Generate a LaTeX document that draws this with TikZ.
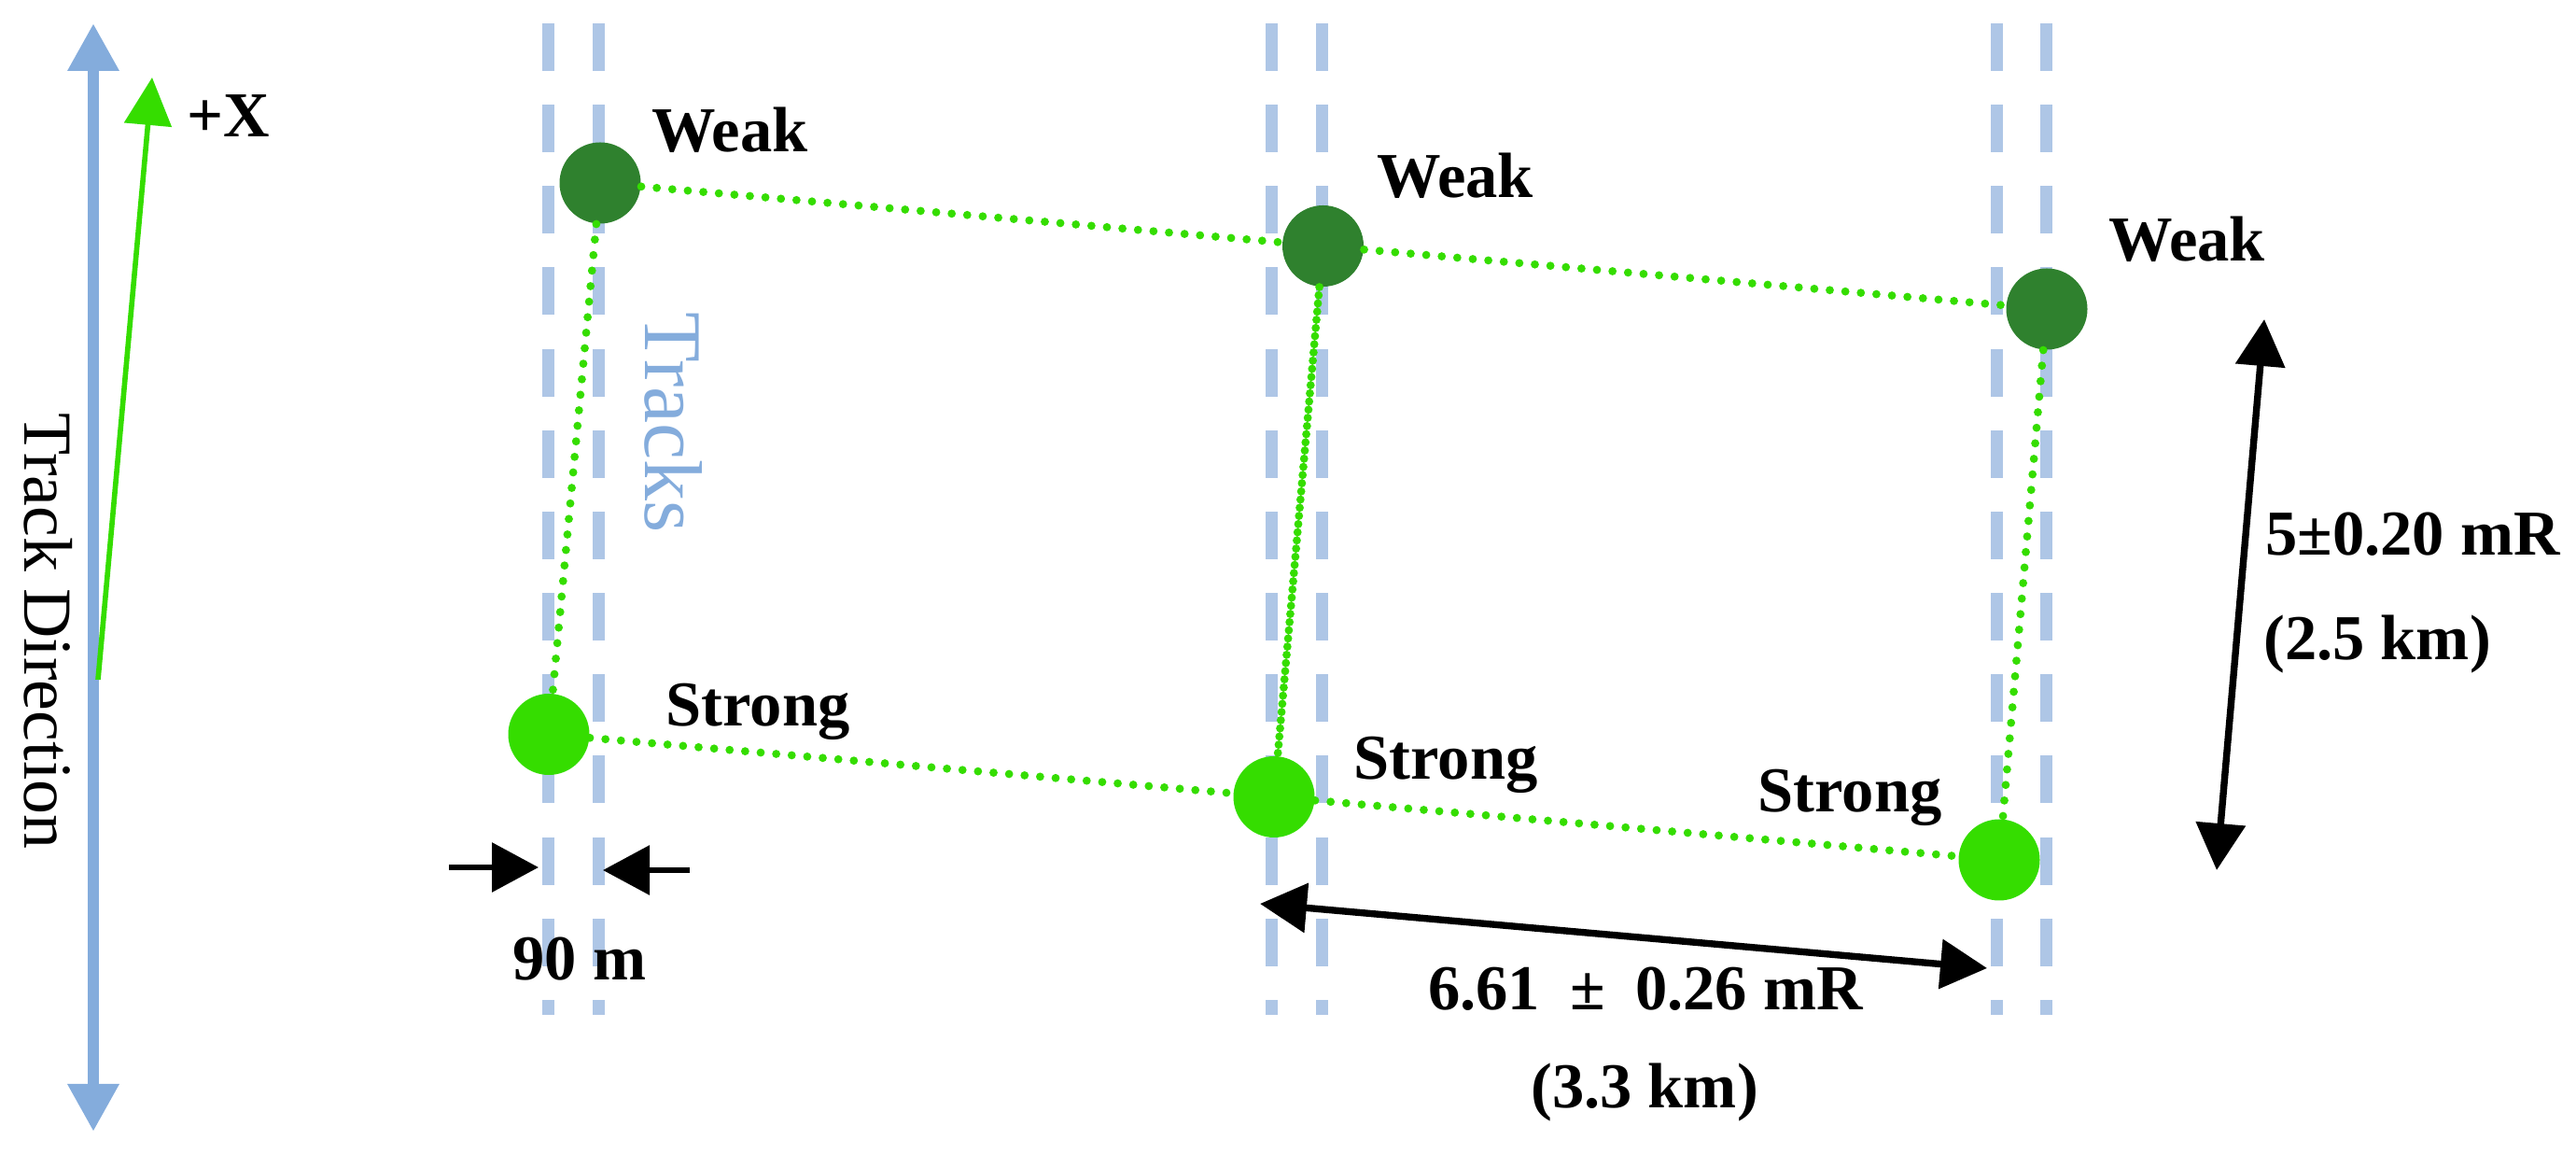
\documentclass[tikz,border=0pt]{standalone}
\usepackage{fontspec}
\setmainfont{Liberation Serif}
\usepackage{tikz}
\usetikzlibrary{arrows.meta}

\definecolor{weakgreen}{RGB}{47,129,46}
\definecolor{stronggreen}{RGB}{53,221,0}
\definecolor{trackblue}{RGB}{174,198,230}
\definecolor{dirblue}{RGB}{132,172,220}

\tikzset{
  weakpt/.style={circle, fill=weakgreen, minimum size=8.7mm, inner sep=0pt},
  strongpt/.style={circle, fill=stronggreen, minimum size=8.7mm, inner sep=0pt},
  link/.style={draw=stronggreen, line width=2.5pt, line cap=round, dash pattern=on 0pt off 4.75pt},
  denselink/.style={link, dash pattern=on 0pt off 2.5pt},
  trackline/.style={draw=trackblue, line width=3.7pt, dash pattern=on 14.5pt off 10.3pt},
  lbl/.style={anchor=base, inner sep=0pt, font=\fontsize{19.5}{23}\selectfont\bfseries},
  dimarrow/.style={draw=black, line width=2.1pt, arrows={Triangle[length=5mm,width=5.2mm]-Triangle[length=5mm,width=5.2mm]}},
  pointer/.style={draw=black, line width=1.8pt, arrows={-Triangle[length=5mm,width=5.2mm]}}
}

\begin{document}
\begin{tikzpicture}
\useasboundingbox (0,0) rectangle (27.6,12.36);
\foreach \x in {5.87,6.41,13.62,14.16,21.39,21.92}
  \draw [trackline] (\x,12.11) -- (\x,1.49);
\coordinate (dirtop) at (1.00,12.11);
\coordinate (dirbot) at (1.00,0.24);
\draw [draw=dirblue, line width=3.6pt, arrows={Triangle[length=5.1mm,width=5.2mm,fill=dirblue]-Triangle[length=5.1mm,width=5.2mm,fill=dirblue]}] (dirbot) -- (dirtop);
\node [rotate=-90, inner sep=0pt, font=\fontsize{21}{25}\selectfont] (dirlbl) at (0.52,5.60) {Track Direction};
\coordinate (xfoot) at (1.05,5.08);
\coordinate (xtip) at (1.63,11.53);
\draw [draw=stronggreen, line width=1.6pt, arrows={-Triangle[length=5.1mm,width=5mm,fill=stronggreen]}] (xfoot) -- (xtip);
\node [lbl] (xlbl) at (2.45,10.89) {+X};
\node [rotate=-90, inner sep=0pt, text=dirblue, font=\fontsize{25}{30}\selectfont] (trklbl) at (7.22,7.83) {Tracks};
\node [weakpt] (w1) at (6.43,10.40) {};
\node [weakpt] (w2) at (14.175,9.725) {};
\node [weakpt] (w3) at (21.93,9.05) {};
\node [strongpt] (s1) at (5.88,4.495) {};
\node [strongpt] (s2) at (13.65,3.825) {};
\node [strongpt] (s3) at (21.42,3.15) {};
\draw [link] (w1) -- (w2);
\draw [link] (w2) -- (w3);
\draw [link] (s1) -- (s2);
\draw [link] (s2) -- (s3);
\draw [link] (w1) -- (s1);
\draw [denselink] (w2) -- (s2);
\draw [link] (w3) -- (s3);
\node [lbl] (w1lbl) at (7.82,10.73) {Weak};
\node [lbl] (w2lbl) at (15.59,10.24) {Weak};
\node [lbl] (w3lbl) at (23.43,9.56) {Weak};
\node [lbl] (s1lbl) at (8.12,4.58) {Strong};
\node [lbl] (s2lbl) at (15.49,4.01) {Strong};
\node [lbl] (s3lbl) at (19.82,3.66) {Strong};
\coordinate (gapl) at (4.81,3.07);
\coordinate (gapltip) at (5.77,3.07);
\coordinate (gapr) at (7.39,3.04);
\coordinate (gaprtip) at (6.46,3.04);
\draw [pointer] (gapl) -- (gapltip);
\draw [pointer] (gapr) -- (gaprtip);
\node [lbl] (gaplbl) at (6.21,1.86) {90 m};
\coordinate (hdl) at (13.50,2.68);
\coordinate (hdr) at (21.29,1.99);
\draw [dimarrow] (hdl) -- (hdr);
\node [lbl] (hdlbl) at (17.63,1.54) {6.61\hspace{0.47em}±\hspace{0.47em}0.26 mR};
\node [lbl] (hdkm) at (17.62,0.49) {(3.3 km)};
\coordinate (vdt) at (24.26,8.94);
\coordinate (vdb) at (23.75,3.04);
\draw [dimarrow] (vdb) -- (vdt);
\node [lbl] (vdlbl) at (25.85,6.41) {5±0.20 mR};
\node [lbl] (vdkm) at (25.47,5.29) {(2.5 km)};
\end{tikzpicture}
\end{document}
